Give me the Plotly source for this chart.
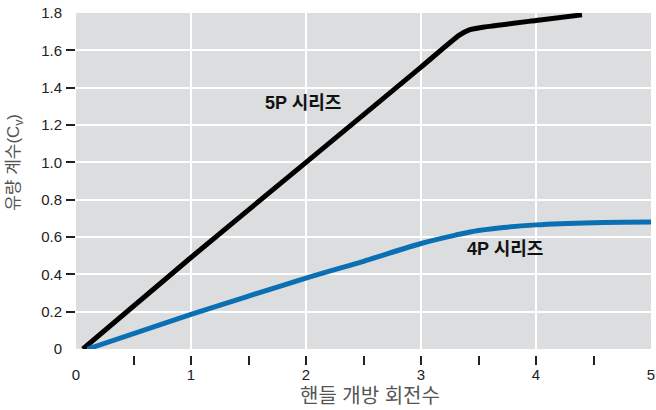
import plotly.graph_objects as go

# Handle opening turns vs. flow coefficient (Cv)
turns_5p = [0.06, 1.0, 2.0, 3.0, 3.33, 3.42, 3.55, 4.0, 4.4]
cv_5p = [0.0, 0.49, 1.0, 1.51, 1.68, 1.71, 1.725, 1.76, 1.79]

turns_4p = [0.1, 1.0, 2.0, 2.5, 3.0, 3.3, 3.5, 4.0, 4.5, 5.0]
cv_4p = [0.0, 0.185, 0.38, 0.47, 0.565, 0.61, 0.635, 0.665, 0.677, 0.68]

series_names = ["5P 시리즈", "4P 시리즈"]
label_x = [1.97, 3.73]
label_y = [1.318, 0.534]

x_tickvals = [0, 1, 2, 3, 4, 5]
x_ticktext = ["0", "1", "2", "3", "4", "5"]
x_minor = [0.5, 1, 1.5, 2, 2.5, 3, 3.5, 4, 4.5]
y_tickvals = [0, 0.2, 0.4, 0.6, 0.8, 1.0, 1.2, 1.4, 1.6, 1.8]
y_ticktext = ["0", "0.2", "0.4", "0.6", "0.8", "1.0", "1.2", "1.4", "1.6", "1.8"]
y_minor = [0.2, 0.4, 0.6, 0.8, 1.0, 1.2, 1.4, 1.6]

x_title = "핸들 개방 회전수"
y_title = "유량 계수(C<sub>v</sub>)"

FONT = "'Liberation Sans', Arial, 'Noto Sans CJK KR', sans-serif"
KFONT = "'Liberation Sans', 'Noto Sans CJK KR', sans-serif"

fig = go.Figure()
fig.add_trace(go.Scatter(x=turns_5p, y=cv_5p, mode="lines", name=series_names[0],
                         line=dict(color="#000000", width=5, shape="spline", smoothing=0.5)))
fig.add_trace(go.Scatter(x=turns_4p, y=cv_4p, mode="lines", name=series_names[1],
                         line=dict(color="#0b6fb3", width=5, shape="spline", smoothing=0.8)))

for name, lx, ly in zip(series_names, label_x, label_y):
    fig.add_annotation(x=lx, y=ly, text="<b>" + name + "</b>", showarrow=False,
                       font=dict(family=KFONT, size=18, color="#111111"))

fig.add_annotation(xref="paper", yref="paper", x=0.512, y=-0.12, text=x_title,
                   showarrow=False, xanchor="center", yanchor="middle",
                   font=dict(family=KFONT, size=20, color="#555555"))
fig.add_annotation(xref="paper", yref="paper", x=-0.106, y=0.562, text=y_title,
                   showarrow=False, xanchor="center", yanchor="middle", textangle=-90,
                   font=dict(family=KFONT, size=17, color="#555555"))

fig.update_layout(
    width=656, height=410,
    margin=dict(l=76, r=5, t=13, b=55, autoexpand=False),
    paper_bgcolor="white",
    plot_bgcolor="#dcdddf",
    showlegend=False,
    font=dict(family=FONT, size=15, color="#222222"),
    xaxis=dict(range=[0, 5], anchor="free", position=0, automargin=False,
               tickmode="array", tickvals=x_tickvals, ticktext=x_ticktext,
               ticks="inside", ticklen=0, ticklabelstandoff=9,
               ticklabeloverflow="allow",
               showgrid=True, gridcolor="white", gridwidth=2,
               zeroline=False, showline=False,
               minor=dict(tickmode="array", tickvals=x_minor, ticks="outside",
                          ticklen=9, tickwidth=1.5, tickcolor="#222222", showgrid=False)),
    yaxis=dict(range=[0, 1.8], domain=[6 / 342, 1], automargin=False,
               tickmode="array", tickvals=y_tickvals, ticktext=y_ticktext,
               ticks="inside", ticklen=0, ticklabelstandoff=13,
               ticklabeloverflow="allow",
               showgrid=True, gridcolor="white", gridwidth=2,
               zeroline=False, showline=False,
               minor=dict(tickmode="array", tickvals=y_minor, ticks="outside",
                          ticklen=9, tickwidth=1.5, tickcolor="#222222", showgrid=False)),
)

# remove the page's default body margin so the figure fills the window exactly
fig.write_html("out.html", config={"displayModeBar": False},
               post_script="document.body.style.margin='0';")
